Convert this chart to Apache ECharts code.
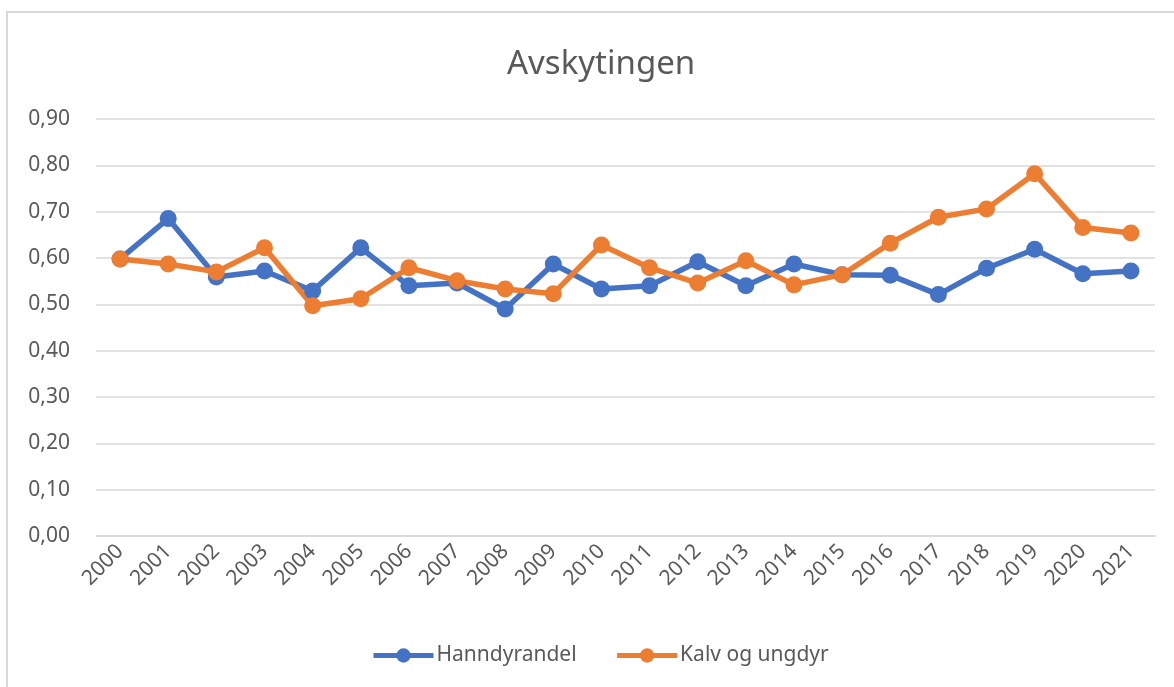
<!DOCTYPE html>
<html>
<head>
<meta charset="utf-8">
<script src="https://cdn.jsdelivr.net/npm/echarts@6/dist/echarts.min.js"></script>
<style>html,body{margin:0;padding:0;background:#fff}#c{width:1174px;height:687px}</style>
</head>
<body>
<div id="c"></div>
<script>
var categories = ['2000','2001','2002','2003','2004','2005','2006','2007','2008','2009','2010','2011','2012','2013','2014','2015','2016','2017','2018','2019','2020','2021'];
var hanndyrandel = [0.598,0.685,0.559,0.572,0.529,0.622,0.540,0.546,0.490,0.587,0.533,0.540,0.592,0.540,0.587,0.564,0.563,0.521,0.578,0.619,0.566,0.572];
var kalvOgUngdyr = [0.598,0.587,0.570,0.622,0.497,0.512,0.579,0.551,0.533,0.523,0.628,0.579,0.546,0.594,0.542,0.564,0.632,0.688,0.706,0.782,0.666,0.654];
var seriesNames = ['Hanndyrandel','Kalv og ungdyr'];
var colors = ['#4472C4','#ED7D31'];

var font = 'Noto Sans';
var chart = echarts.init(document.getElementById('c'), null, {renderer:'canvas'});
function mk(name, data, color){
  return {
    name: name, type: 'line', data: data,
    symbol: 'circle', symbolSize: 17,
    lineStyle: {width: 5.5, color: color},
    itemStyle: {color: color},
    animation: false
  };
}
chart.setOption({
  animation: false,
  color: colors,
  title: {
    text: 'Avskytingen', left: 502, top: 43,
    textStyle: {fontFamily: font, fontSize: 33, fontWeight: 'normal', color: '#595959'}
  },
  graphic: [{
    type: 'rect', shape: {x: 7, y: 12, width: 1300, height: 800},
    style: {fill: 'none', stroke: '#D9D9D9', lineWidth: 2}, silent: true
  }],
  legend: {
    bottom: 16, left: 366, itemWidth: 60, itemHeight: 18, itemGap: 38,
    lineStyle: {width: 5},
    textStyle: {fontFamily: font, fontSize: 21, color: '#595959', padding: [0,0,0,-2]},
    data: seriesNames
  },
  grid: {left: 96, right: 19, top: 119, bottom: 151, containLabel: false},
  xAxis: {
    type: 'category', data: categories, boundaryGap: true,
    axisLine: {show: true, lineStyle: {color: '#D9D9D9', width: 1.5}},
    axisTick: {show: false},
    axisLabel: {rotate: 45, margin: 12, interval: 0, fontFamily: font, fontSize: 21, color: '#595959'}
  },
  yAxis: {
    type: 'value', min: 0, max: 0.9, interval: 0.1,
    axisLine: {show: false}, axisTick: {show: false},
    splitLine: {lineStyle: {color: '#D9D9D9', width: 1.5}},
    axisLabel: {margin: 26, fontFamily: font, fontSize: 21, color: '#595959',
      formatter: function(v){ return v.toFixed(2).replace('.', ','); }}
  },
  series: [mk(seriesNames[0], hanndyrandel, colors[0]), mk(seriesNames[1], kalvOgUngdyr, colors[1])]
});
</script>
</body>
</html>
